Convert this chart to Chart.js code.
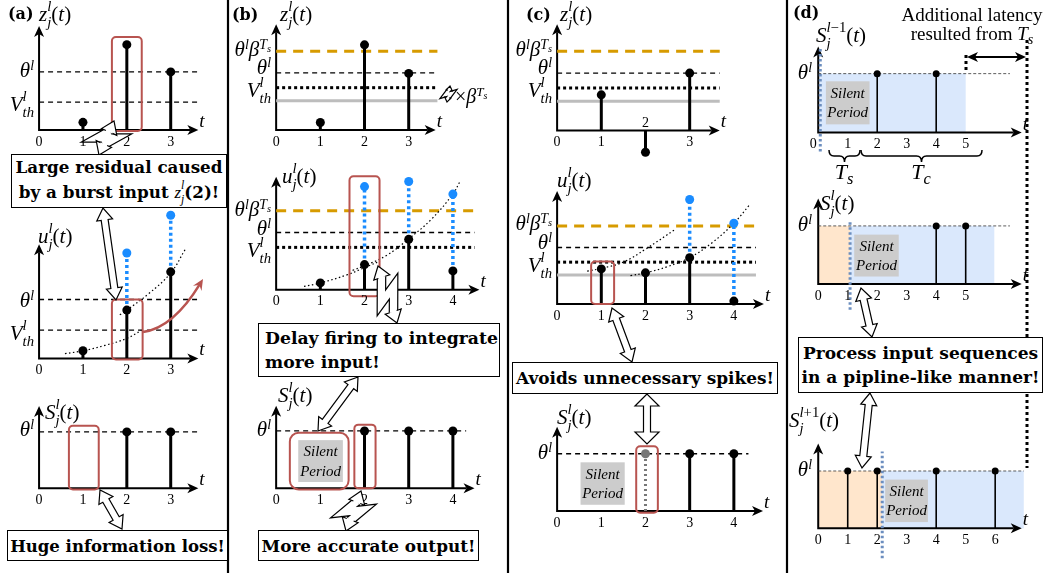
<!DOCTYPE html>
<html lang="en">
<head>
<meta charset="UTF-8">
<title>Silent period spiking neuron</title>
<script src="https://cdn.jsdelivr.net/npm/chart.js"></script>
<style>
    body { margin: 0; background: #fff; }
    #page { position: relative; width: 1058px; height: 573px; overflow: hidden; background: #fff; }
    #page > * { position: absolute; }
    .lbl { font-family: "Liberation Serif", serif; font-size: 21px; line-height: 1; white-space: nowrap; }
    .lbl sup, .box sup { font-size: .66em; vertical-align: .5em; line-height: 0; }
    .lbl sub, .box sub { font-size: .75em; vertical-align: -.3em; line-height: 0; }
    .ss { display: inline-block; font-size: .7em; line-height: 1.1; vertical-align: -.4em; text-align: left; }
    .ss > span { display: block; }
    .pl { font-family: "DejaVu Serif", serif; font-weight: bold; font-size: 16px; }
    .rg { font-size: 19px; }
    .big { font-size: 22px; }
    .sm { font-size: 20px; }
    .tl { font-size: 19px; }
    .silent { font-size: 15px; font-style: italic; line-height: 1.3; text-align: center; }
    .box { box-sizing: border-box; border: 1.5px solid #000; background: #fff; font-family: "DejaVu Serif", serif;
           font-weight: bold; font-size: 17px; line-height: 24px; display: flex; flex-direction: column;
           justify-content: center; align-items: center; white-space: nowrap; }
    .box.left { align-items: flex-start; padding-left: 6px; }
    .box i { font-family: "Liberation Serif", serif; font-weight: normal; }
</style>
</head>
<body>
<div id="page"></div>
<script>
    const page = document.getElementById('page');

    // ---- (a) plain IF neuron, burst input ----
    const tA = [1, 2, 3];
    const zA = [0.13, 1.47, 1.0];
    const uA = [0.13, 0.82, 1.47];
    const uAfire = [null, 1.79, 2.43];
    const sAt = [2, 3];
    const sA = [1, 1];
    const curveA1 = [[0.59, 0.08], [1, 0.13], [1.5, 0.22], [2, 0.34], [2.34, 0.48]];
    const curveA2 = [[1.84, 0.74], [2, 0.82], [2.5, 1.1], [3, 1.45], [3.33, 1.85]];

    // ---- (b) silent period delays firing ----
    const tB = [1, 2, 3];
    const zB = [0.13, 1.49, 0.99];
    const tB2 = [1, 2, 3, 4];
    const uB = [0.12, 0.44, 0.88, 0.33];
    const uBfire = [null, 1.8, 1.89, 1.67];
    const sBt = [2, 3, 4];
    const sB = [1, 1, 1];
    const curveB1 = [[0.63, 0.06], [1, 0.12], [1.6, 0.26], [2.1, 0.42], [2.35, 0.5]];
    const curveB2 = [[1.73, 0.34], [2, 0.42], [2.5, 0.6], [3, 0.89], [3.5, 1.22], [4, 1.67], [4.16, 1.89]];

    // ---- (c) avoids unnecessary spikes ----
    const tC = [1, 2, 3];
    const zC = [0.62, -0.38, 1.0];
    const tC2 = [1, 2, 3, 4];
    const uC = [0.62, 0.55, 0.82, 0.05];
    const uCfire = [null, null, 1.85, 1.43];
    const sCt = [3, 4];
    const sC = [1, 1];
    const sCmutedT = [2];
    const sCmuted = [1];
    const curveC1 = [[0.68, 0.58], [1, 0.63], [1.5, 0.74], [2, 0.97], [2.69, 1.33]];
    const curveC2 = [[1.66, 0.5], [2, 0.55], [2.5, 0.66], [3, 0.82], [3.5, 1.08], [4, 1.43], [4.35, 1.75]];

    // thresholds, in units of theta^l
    const theta = 1.0;
    const thetaBeta = 1.38;
    const vthA = 0.48;
    const vthBeta = 0.74;
    const vthOld = 0.51;

    // ---- (d) pipeline over layers ----
    const sD1t = [2, 4];
    const sD2t = [4, 5];
    const sD3t = [1, 2, 4, 6];
    const ones = t => t.map(() => 1);
    const silentEndD = [0.07, 1.08, 2.17];
    const windowEndD = [5, 5.97, 6.97];

    const ticks3 = [0, 1, 2, 3];
    const ticks4 = [0, 1, 2, 3, 4];
    const ticks5 = [0, 1, 2, 3, 4, 5];
    const ticks6 = [0, 1, 2, 3, 4, 5, 6];

    const ST = {
        stem:   { c: '#000', w: 3, r: 4.5 },
        fire:   { c: '#1a8cff', w: 3.5, r: 4.5, dash: [3, 3] },
        muted:  { c: '#777', w: 3, r: 4.5, dash: [2, 3] },
        thin:   { c: '#000', w: 1.6, r: 3.5 },
        theta:  { c: '#000', w: 1.3, dash: [5, 4] },
        orange: { c: '#d79b00', w: 3, dash: [10, 7] },
        vdot:   { c: '#000', w: 3, dash: [3, 3] },
        gray:   { c: '#bdbdbd', w: 3 },
        fine:   { c: '#333', w: 0.8, dash: [3, 2] }
    };
    const BLUE = '#dae8fc', ORANGE = '#ffe6cc';

    // ---------- dataset builders ----------
    const pts = (t, v) => t.map((x, i) => ({ x, y: v[i] }));
    function stems(t, v, st, from) {
        return { type: 'scatter', data: pts(t, v), pointRadius: st.r, pointBackgroundColor: st.c, pointBorderWidth: 0,
                 stemFrom: from === undefined ? 0 : from, stemColor: st.c, stemWidth: st.w, stemDash: st.dash || [] };
    }
    function fired(t, u, f, st) {
        const idx = t.map((_, i) => i).filter(i => f[i] !== null);
        return stems(idx.map(i => t[i]), idx.map(i => f[i]), st, idx.map(i => u[i]));
    }
    const hline = (v, end, st) => ({ type: 'line', data: [{ x: 0, y: v }, { x: end, y: v }], borderColor: st.c,
                                     borderWidth: st.w, borderDash: st.dash || [], pointRadius: 0 });
    const curve = p => ({ type: 'line', data: p.map(([x, y]) => ({ x, y })), borderColor: '#000', borderWidth: 1.2,
                          borderDash: [1.5, 2.5], tension: 0.4, pointRadius: 0 });

    // ---------- html labels ----------
    function label(html, x, y, mode, cls) {
        const d = document.createElement('div');
        d.className = 'lbl ' + (cls || '');
        d.innerHTML = html;
        d.style.left = x + 'px';
        d.style.top = y + 'px';
        d.style.transform = mode === 'r' ? 'translate(-100%,-50%)' : mode === 'c' ? 'translate(-50%,-50%)' : 'translate(0,-50%)';
        page.appendChild(d);
        return d;
    }

    // ---------- drawing plugin: axes, stems, fills, boxes, ticks ----------
    function deco(ex) {
        const P = ch => [v => ch.scales.x.getPixelForValue(v), v => ch.scales.y.getPixelForValue(v)];
        return {
            id: 'deco',
            beforeDatasetsDraw(chart) {
                const ctx = chart.ctx, [px, py] = P(chart);
                ctx.save();
                (ex.fills || []).forEach(f => {
                    ctx.fillStyle = f[4];
                    ctx.fillRect(px(f[0]), py(f[3]), px(f[1]) - px(f[0]), py(f[2]) - py(f[3]));
                });
                (ex.silent || []).forEach(s => {
                    ctx.fillStyle = '#cccccc';
                    ctx.fillRect(px(s[0]), py(s[3]), px(s[1]) - px(s[0]), py(s[2]) - py(s[3]));
                });
                const x0 = px(0), y0 = py(0), xe = px(ex.xEnd), ye = py(ex.yEnd);
                ctx.strokeStyle = '#000'; ctx.fillStyle = '#000'; ctx.lineWidth = 2;
                ctx.beginPath();
                ctx.moveTo(x0 - 1, y0); ctx.lineTo(xe - 8, y0);
                ctx.moveTo(x0, y0 + 1); ctx.lineTo(x0, ye + 8);
                ctx.stroke();
                ctx.beginPath();
                ctx.moveTo(xe, y0); ctx.lineTo(xe - 11, y0 - 5); ctx.lineTo(xe - 8, y0); ctx.lineTo(xe - 11, y0 + 5);
                ctx.closePath(); ctx.fill();
                ctx.beginPath();
                ctx.moveTo(x0, ye); ctx.lineTo(x0 - 5, ye + 11); ctx.lineTo(x0, ye + 8); ctx.lineTo(x0 + 5, ye + 11);
                ctx.closePath(); ctx.fill();
                (ex.vlines || []).forEach(v => {
                    ctx.strokeStyle = '#6c8ebf'; ctx.lineWidth = 3; ctx.setLineDash([2.5, 2.5]);
                    ctx.beginPath(); ctx.moveTo(px(v[0]), py(v[1])); ctx.lineTo(px(v[0]), py(v[2])); ctx.stroke();
                });
                ctx.restore();
            },
            beforeDatasetDraw(chart, args) {
                const ds = chart.data.datasets[args.index];
                if (ds.stemFrom === undefined) return;
                const ctx = chart.ctx, [px, py] = P(chart);
                ctx.save();
                ctx.strokeStyle = ds.stemColor; ctx.lineWidth = ds.stemWidth; ctx.setLineDash(ds.stemDash);
                ds.data.forEach((p, i) => {
                    const from = Array.isArray(ds.stemFrom) ? ds.stemFrom[i] : ds.stemFrom;
                    ctx.beginPath(); ctx.moveTo(px(p.x), py(from)); ctx.lineTo(px(p.x), py(p.y)); ctx.stroke();
                });
                ctx.restore();
            },
            afterDatasetsDraw(chart) {
                const ctx = chart.ctx, [px, py] = P(chart);
                ctx.save();
                ctx.strokeStyle = '#b85450'; ctx.lineWidth = 2;
                (ex.red || []).forEach(b => {
                    ctx.beginPath();
                    ctx.roundRect(px(b[0]), py(b[3]), px(b[1]) - px(b[0]), py(b[2]) - py(b[3]), b[4] || 4);
                    ctx.stroke();
                });
                ctx.fillStyle = '#000'; ctx.font = '14px "Liberation Serif"';
                ctx.textAlign = 'center'; ctx.textBaseline = 'middle';
                const y0 = py(0);
                ex.ticks.forEach(t => {
                    const up = (ex.tickUp || []).includes(t);
                    ctx.fillText(String(t), px(t) + ((ex.tickDx || {})[t] || 0), up ? y0 - 7 : y0 + 12);
                });
                ctx.restore();
            }
        };
    }

    function stemChart(L, datasets, ex) {
        const [bx, by, bw, bh] = L.box, [ox, oy] = L.o;
        const cv = document.createElement('canvas');
        cv.width = bw; cv.height = bh;
        Object.assign(cv.style, { left: bx + 'px', top: by + 'px', width: bw + 'px', height: bh + 'px' });
        page.appendChild(cv);
        const chart = new Chart(cv, {
            type: 'scatter',
            data: { datasets },
            options: {
                responsive: false, animation: false, events: [],
                layout: { padding: 0 },
                plugins: { legend: { display: false }, tooltip: { enabled: false } },
                scales: {
                    x: { type: 'linear', display: false, min: (bx - ox) / L.ux, max: (bx + bw - ox) / L.ux },
                    y: { type: 'linear', display: false, min: (oy - by - bh) / L.uy, max: (oy - by) / L.uy }
                }
            },
            plugins: [deco(ex)]
        });
        const X = chart.scales.x, Y = chart.scales.y;
        (ex.silent || []).forEach(s => {
            label('Silent<br>Period', bx + X.getPixelForValue((s[0] + s[1]) / 2), by + Y.getPixelForValue((s[2] + s[3]) / 2), 'c', 'silent');
        });
        label('<i>t</i>', bx + X.getPixelForValue(ex.xEnd) + 1, by + Y.getPixelForValue(0) - 10, 'l', 'tl');
        return chart;
    }

    // ---------- panel (a) ----------
    stemChart({ box: [0, 15, 226, 140], o: [36, 133], ux: 45.7, uy: 62 }, [
        stems(tA, zA, ST.stem),
        hline(theta, 3.67, ST.theta), hline(vthA, 3.67, ST.theta)
    ], { xEnd: 3.63, yEnd: 1.79, ticks: ticks3, red: [[1.66, 2.34, -0.02, 1.6]] });

    stemChart({ box: [0, 200, 226, 180], o: [36, 362], ux: 45.7, uy: 62 }, [
        stems(tA, uA, ST.stem),
        fired(tA, uA, uAfire, ST.fire),
        curve(curveA1), curve(curveA2),
        hline(theta, 3.67, ST.theta), hline(vthA, 3.67, ST.theta)
    ], { xEnd: 3.63, yEnd: 1.94, ticks: ticks3, red: [[1.66, 2.36, -0.02, 1.0]] });

    stemChart({ box: [0, 395, 226, 120], o: [36, 491], ux: 45.7, uy: 61 }, [
        stems(sAt, sA, ST.stem),
        hline(theta, 3.67, ST.theta)
    ], { xEnd: 3.63, yEnd: 1.46, ticks: ticks3, red: [[0.68, 1.36, -0.02, 1.11]] });

    // ---------- panel (b) ----------
    stemChart({ box: [232, 15, 272, 140], o: [273, 133], ux: 45.7, uy: 61 }, [
        stems(tB, zB, ST.stem),
        hline(thetaBeta, 3.65, ST.orange), hline(theta, 3.65, ST.theta),
        hline(vthBeta, 3.65, ST.vdot), hline(vthOld, 3.65, ST.gray)
    ], { xEnd: 3.61, yEnd: 1.85, ticks: ticks3 });

    stemChart({ box: [232, 165, 272, 150], o: [273, 293], ux: 45.7, uy: 61 }, [
        stems(tB2, uB, ST.stem),
        fired(tB2, uB, uBfire, ST.fire),
        curve(curveB1), curve(curveB2),
        hline(thetaBeta, 4.49, ST.orange), hline(theta, 4.49, ST.theta), hline(vthBeta, 4.49, ST.vdot)
    ], { xEnd: 4.6, yEnd: 1.97, ticks: ticks4, red: [[1.66, 2.34, -0.11, 1.98]] });

    stemChart({ box: [232, 395, 272, 120], o: [273, 491], ux: 45.7, uy: 62 }, [
        stems(sBt, sB, ST.stem),
        hline(theta, 4.3, ST.theta)
    ], { xEnd: 4.49, yEnd: 1.44, ticks: ticks4, silent: [[0.5, 1.51, 0.11, 0.84]],
         red: [[0.31, 1.64, -0.02, 0.97, 9], [1.77, 2.25, 0, 1.11]] });

    // ---------- panel (c) ----------
    stemChart({ box: [512, 15, 272, 150], o: [554, 133], ux: 45.7, uy: 61 }, [
        stems(tC, zC, ST.stem),
        hline(thetaBeta, 3.68, ST.orange), hline(theta, 3.68, ST.theta),
        hline(vthBeta, 3.68, ST.vdot), hline(vthOld, 3.68, ST.gray)
    ], { xEnd: 3.68, yEnd: 1.85, ticks: ticks3, tickUp: [2] });

    stemChart({ box: [512, 180, 272, 150], o: [554, 307], ux: 45.7, uy: 60 }, [
        stems(tC2, uC, ST.stem),
        fired(tC2, uC, uCfire, ST.fire),
        curve(curveC1), curve(curveC2),
        hline(thetaBeta, 4.5, ST.orange), hline(theta, 4.5, ST.theta),
        hline(vthBeta, 4.5, ST.vdot), hline(vthOld, 4.5, ST.gray)
    ], { xEnd: 4.68, yEnd: 2.0, ticks: ticks4, red: [[0.77, 1.29, 0, 0.75]] });

    stemChart({ box: [512, 415, 272, 120], o: [554, 514], ux: 45.7, uy: 62 }, [
        stems(sCt, sC, ST.stem),
        stems(sCmutedT, sCmuted, ST.muted),
        hline(theta, 4.33, ST.theta)
    ], { xEnd: 4.66, yEnd: 1.47, ticks: ticks4, silent: [[0.53, 1.53, 0.11, 0.85]], red: [[1.79, 2.28, -0.03, 1.13]] });

    // ---------- panel (d) ----------
    stemChart({ box: [789, 35, 268, 125], o: [815, 135], ux: 30.4, uy: 63 }, [
        stems(sD1t, ones(sD1t), ST.thin),
        hline(theta, 6.5, ST.fine)
    ], { xEnd: 6.9, yEnd: 1.46, ticks: ticks5, tickDx: { 0: -5 },
         fills: [[0.05, windowEndD[0], 0, theta, BLUE]], silent: [[0.26, 1.74, 0.14, 0.87]],
         vlines: [[silentEndD[0], -0.32, 1.46]] });

    stemChart({ box: [789, 190, 268, 130], o: [815, 286], ux: 30.4, uy: 62 }, [
        stems(sD2t, ones(sD2t), ST.thin),
        hline(theta, 6.5, ST.fine)
    ], { xEnd: 6.9, yEnd: 1.47, ticks: ticks5,
         fills: [[0, silentEndD[1], 0, theta, ORANGE], [silentEndD[1], windowEndD[1], 0, theta, BLUE]],
         silent: [[1.22, 2.73, 0.13, 0.85]], vlines: [[silentEndD[1], -0.44, 1.1]] });

    stemChart({ box: [789, 435, 268, 135], o: [815, 530], ux: 30.4, uy: 61 }, [
        stems(sD3t, ones(sD3t), ST.thin),
        hline(theta, 6.97, ST.fine)
    ], { xEnd: 6.9, yEnd: 1.48, ticks: ticks6,
         fills: [[0, silentEndD[2], 0, theta, ORANGE], [silentEndD[2], windowEndD[2], 0, theta, BLUE]],
         silent: [[2.27, 3.72, 0.11, 0.85]], vlines: [[silentEndD[2], -0.52, 1.34]] });

    // ---------- svg annotations ----------
    const g = [];
    [228, 508, 787].forEach(x => g.push(`<line x1="${x}" y1="0" x2="${x}" y2="573" stroke="#000" stroke-width="2.2"/>`));

    function blockArrow(x1, y1, x2, y2, hw = 8) {
        const L = Math.hypot(x2 - x1, y2 - y1), ux = (x2 - x1) / L, uy = (y2 - y1) / L;
        const P = (u, v) => `${(x1 + ux * u - uy * v).toFixed(1)},${(y1 + uy * u + ux * v).toFixed(1)}`;
        const h = 12, sw = 3.5;
        const p = [P(0, 0), P(h, hw), P(h, sw), P(L - h, sw), P(L - h, hw), P(L, 0), P(L - h, -hw), P(L - h, -sw), P(h, -sw), P(h, -hw)];
        g.push(`<polygon points="${p.join(' ')}" fill="#fff" stroke="#000" stroke-width="1.2"/>`);
    }
    function bolt(x1, y1, x2, y2, s) {
        const L = Math.hypot(x2 - x1, y2 - y1), ux = (x2 - x1) / L, uy = (y2 - y1) / L;
        const P = (u, v) => `${(x1 + ux * u - uy * v).toFixed(1)},${(y1 + uy * u + ux * v).toFixed(1)}`;
        const hl = 10 * s, hw = 7 * s, sw = 3 * s, j = 7 * s;
        const line = [P(hl - 1, 0), P(L * 0.6, j), P(L * 0.4, -j), P(L - hl + 1, 0)].join(' ');
        g.push(`<polyline points="${line}" fill="none" stroke="#000" stroke-width="${2 * sw + 2.4}"/>`);
        g.push(`<polyline points="${line}" fill="none" stroke="#fff" stroke-width="${2 * sw}"/>`);
        [[0, 1], [L, -1]].forEach(([u, d]) => {
            g.push(`<polygon points="${P(u, 0)} ${P(u + d * hl, hw)} ${P(u + d * hl, -hw)}" fill="#fff"/>`);
            g.push(`<polyline points="${P(u + d * hl, sw)} ${P(u + d * hl, hw)} ${P(u, 0)} ${P(u + d * hl, -hw)} ${P(u + d * hl, -sw)}" fill="none" stroke="#000" stroke-width="1.2"/>`);
        });
    }
    function redArrow(x0, y0, cx, cy, x1, y1) {
        const L = Math.hypot(x1 - cx, y1 - cy), ux = (x1 - cx) / L, uy = (y1 - cy) / L;
        const bx = x1 - ux * 11, by = y1 - uy * 11;
        g.push(`<path d="M${x0},${y0} Q${cx},${cy} ${x1 - ux * 6},${y1 - uy * 6}" fill="none" stroke="#b85450" stroke-width="2.5"/>`);
        g.push(`<polygon points="${x1},${y1} ${bx - uy * 5},${by + ux * 5} ${x1 - ux * 7},${y1 - uy * 7} ${bx + uy * 5},${by - ux * 5}" fill="#b85450"/>`);
    }
    function brace(xa, xb, y0) {
        const xm = (xa + xb) / 2, h = 6, r = 5;
        g.push(`<path d="M${xa},${y0} Q${xa},${y0 + h} ${xa + r},${y0 + h} L${xm - r},${y0 + h} Q${xm},${y0 + h} ${xm},${y0 + 2 * h} Q${xm},${y0 + h} ${xm + r},${y0 + h} L${xb - r},${y0 + h} Q${xb},${y0 + h} ${xb},${y0}" fill="none" stroke="#000" stroke-width="1.5"/>`);
    }

    blockArrow(103, 208, 116, 300);
    blockArrow(100, 490, 122, 529);
    blockArrow(358, 377, 318, 431);
    blockArrow(612, 308, 632, 362);
    blockArrow(647, 394, 647, 444, 12);
    blockArrow(861, 288, 872, 337);
    blockArrow(870, 393, 862, 468);
    bolt(114, 121, 99, 155, 1.2);
    bolt(378, 266, 397, 323, 1.2);
    bolt(361, 491, 346, 531, 1.2);
    bolt(450, 86, 447, 102, 0.45);
    redArrow(143, 332, 173, 328, 203, 279);
    brace(829, 860, 150);
    brace(861, 982, 150);
    g.push('<line x1="966" y1="55" x2="966" y2="72" stroke="#000" stroke-width="3" stroke-dasharray="3,3"/>');
    g.push('<line x1="1027" y1="40" x2="1027" y2="468" stroke="#000" stroke-width="3" stroke-dasharray="3,3"/>');
    g.push('<line x1="972" y1="57" x2="1021" y2="57" stroke="#000" stroke-width="2"/>');
    g.push('<polygon points="967,57 978,52 975,57 978,62" fill="#000"/>');
    g.push('<polygon points="1026,57 1015,52 1018,57 1015,62" fill="#000"/>');

    const svg = document.createElementNS('http://www.w3.org/2000/svg', 'svg');
    svg.setAttribute('width', 1058); svg.setAttribute('height', 573);
    svg.style.left = '0px'; svg.style.top = '0px';
    svg.innerHTML = g.join('');
    page.appendChild(svg);

    // ---------- math labels ----------
    const I = s => `<i>${s}</i>`;
    const SS = (sup, sub) => `<span class="ss"><span>${sup}</span><span>${sub}</span></span>`;
    const fn = (b, sup, sub) => `${I(b)}${SS(sup, sub)}(${I('t')})`;
    const TH = `${I('θ')}<sup>${I('l')}</sup>`;
    const THB = `${TH}${I('β')}<sup>${I('T')}<sub>${I('s')}</sub></sup>`;
    const VTH = `${I('V')}${SS(I('l'), I('th'))}`;
    const Z = fn('z', I('l'), I('j')), U = fn('u', I('l'), I('j')), S = fn('S', I('l'), I('j'));

    [
        ['<b>(a)</b>', 8, 14, 'l', 'pl'], [Z, 39, 14, 'l'],
        [TH, 34, 70, 'r'], [VTH, 34, 104, 'r'],
        [U, 38, 236, 'l'], [TH, 34, 300, 'r'], [VTH, 34, 333, 'r'],
        [S, 45, 412, 'l'], [TH, 34, 429, 'r'],
        ['<b>(b)</b>', 232, 15, 'l', 'pl'], [Z, 280, 14, 'l'],
        [THB, 271, 49, 'r'], [TH, 271, 67, 'r'], [VTH, 271, 90, 'r'],
        ['×' + I('β') + '<sup>' + I('T') + '<sub>' + I('s') + '</sub></sup>', 455, 96, 'l', 'sm'],
        [U, 282, 176, 'l'], [THB, 271, 209, 'r'], [TH, 271, 228, 'r'], [VTH, 271, 250, 'r'],
        [S, 278, 395, 'l'], [TH, 271, 429, 'r'],
        ['<b>(c)</b>', 526, 15, 'l', 'pl'], [Z, 560, 14, 'l'],
        [THB, 552, 49, 'r'], [TH, 552, 67, 'r'], [VTH, 552, 90, 'r'],
        [U, 557, 180, 'l'], [THB, 552, 223, 'r'], [TH, 552, 242, 'r'], [VTH, 552, 265, 'r'],
        [S, 557, 417, 'l'], [TH, 552, 452, 'r'],
        ['<b>(d)</b>', 793, 13, 'l', 'pl'],
        ['Additional latency', 972, 14, 'c', 'rg'], ['resulted from ' + I('T') + '<sub>' + I('s') + '</sub>', 972, 33, 'c', 'rg'],
        [fn('S', I('l') + '−1', I('j')), 816, 35, 'l'], [TH, 812, 72, 'r'],
        [I('T') + '<sub>' + I('s') + '</sub>', 844, 172, 'c', 'big'], [I('T') + '<sub>' + I('c') + '</sub>', 921, 172, 'c', 'big'],
        [S, 820, 203, 'l'], [TH, 812, 224, 'r'],
        [fn('S', I('l') + '+1', I('j')), 789, 420, 'l'], [TH, 812, 469, 'r']
    ].forEach(a => label(...a));

    // ---------- text boxes ----------
    function textBox(lines, r, left, fitLine, target) {
        const d = document.createElement('div');
        d.className = 'box' + (left ? ' left' : '');
        Object.assign(d.style, { left: r[0] + 'px', top: r[1] + 'px', width: r[2] + 'px', height: r[3] + 'px', fontSize: '20px' });
        d.innerHTML = lines.map(l => `<div><span class="ln">${l}</span></div>`).join('');
        page.appendChild(d);
        const w = d.querySelectorAll('.ln')[fitLine].getBoundingClientRect().width;
        d.style.fontSize = (20 * target / w).toFixed(2) + 'px';
    }
    textBox(['Large residual caused', 'by a burst input ' + I('z') + SS(I('l'), I('j')) + '(2)!'], [11, 154, 216, 54], false, 0, 207);
    textBox(['Huge information loss!'], [7, 530, 221, 31], false, 0, 215);
    textBox(['Delay firing to integrate', 'more input!'], [258, 323, 242, 54], true, 0, 233);
    textBox(['More accurate output!'], [258, 530, 221, 31], false, 0, 214);
    textBox(['Avoids unnecessary spikes!'], [512, 362, 266, 32], false, 0, 258);
    textBox(['Process input sequences', 'in a pipline-like manner!'], [798, 337, 245, 56], false, 1, 238);
</script>
</body>
</html>
